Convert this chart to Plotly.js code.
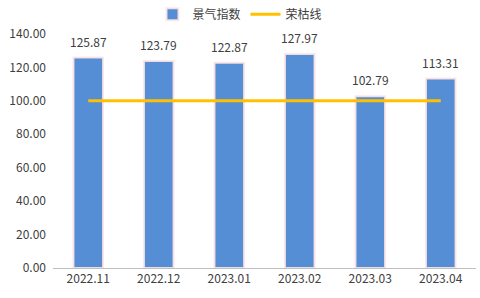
<!DOCTYPE html>
<html><head><meta charset="utf-8">
<script src="https://cdn.plot.ly/plotly-3.0.1.min.js"></script>
<style>html,body{margin:0;padding:0;background:#fff}#c{width:480px;height:298px}</style>
</head><body><div id="c"></div>
<script>
const categories = ["2022.11","2022.12","2023.01","2023.02","2023.03","2023.04"];
const indexValues = [125.87,123.79,122.87,127.97,102.79,113.31];
const boomBust = [100,100,100,100,100,100];
const seriesNames = ["景气指数","荣枯线"];
const yTicks = [0,20,40,60,80,100,120,140];

const fam = "Noto Sans CJK SC, Microsoft YaHei, sans-serif";
const font = {family:fam, size:12, color:"#404040"};
const data = [
  {type:"bar", name:seriesNames[0], x:categories, y:indexValues,
   marker:{color:"#558ED5", line:{color:"rgba(255,228,228,0.9)", width:2}},
   width:0.42, hoverinfo:"none"},
  {type:"scatter", mode:"lines", name:seriesNames[1], x:categories, y:boomBust,
   line:{color:"#FFC000", width:3}, hoverinfo:"none"}
];
const annotations = categories.map((c,i)=>({
  x:i, y:indexValues[i], xref:"x", yref:"y", text:indexValues[i].toFixed(2),
  showarrow:false, yanchor:"bottom", yshift:6, font:{family:fam,size:12,color:"#404040"}
}));
const layout = {
  width:480, height:298,
  margin:{l:53, r:4, t:34, b:30},
  paper_bgcolor:"#fff", plot_bgcolor:"#fff",
  font:font,
  showlegend:true,
  legend:{orientation:"h", x:0.5, xanchor:"center", xref:"container", y:0.952, yanchor:"middle", yref:"container",
          font:{family:fam,size:12,color:"#404040"}, itemwidth:30, traceorder:"normal"},
  xaxis:{type:"category", range:[-0.5,5.5], showline:true, linecolor:"#BFBFBF", linewidth:1, ticks:"", showgrid:false,
         tickfont:{family:fam,size:12,color:"#404040"}},
  yaxis:{range:[0,140], tickvals:yTicks, ticktext:yTicks.map(v=>v.toFixed(2)), showgrid:false,
         zeroline:false, showline:false, ticks:"", ticklabelstandoff:6,
         tickfont:{family:fam,size:12,color:"#404040"}},
  annotations:annotations
};
Plotly.newPlot("c", data, layout, {displayModeBar:false, staticPlot:true});
</script></body></html>
